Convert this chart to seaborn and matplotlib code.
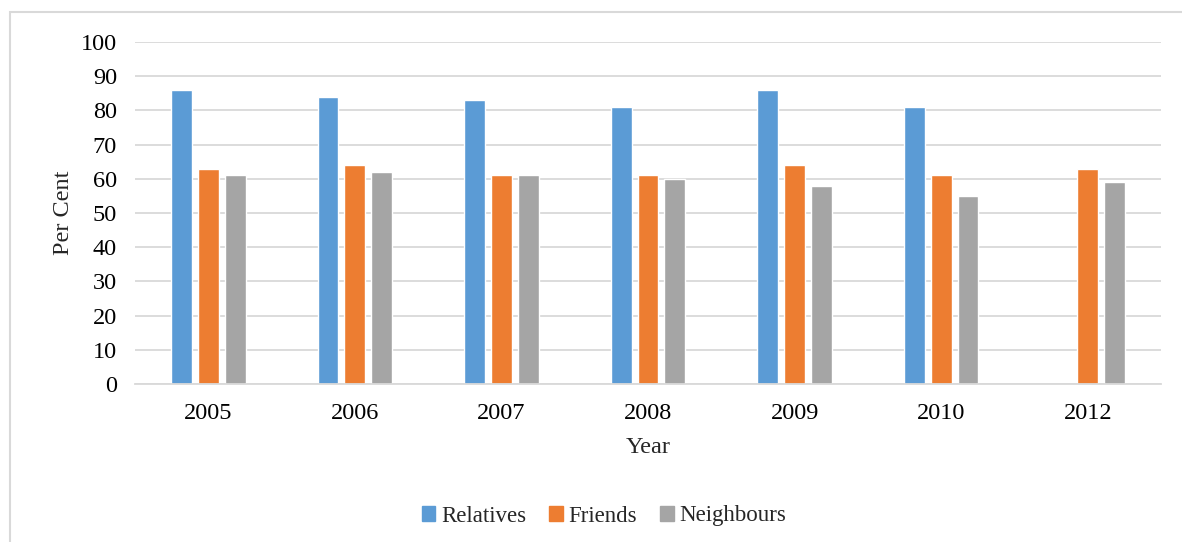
import numpy as np
import pandas as pd
import seaborn as sns
import matplotlib.pyplot as plt
from matplotlib.patches import Rectangle

# Chart data
years = ['2005', '2006', '2007', '2008', '2009', '2010', '2012']
relatives = [86, 84, 83, 81, 86, 81, np.nan]
friends = [63, 64, 61, 61, 64, 61, 63]
neighbours = [61, 62, 61, 60, 58, 55, 59]
series_names = ['Relatives', 'Friends', 'Neighbours']
colors = ['#5B9BD5', '#ED7D31', '#A5A5A5']

# Long table for seaborn
df = pd.DataFrame({'Year': years, 'Relatives': relatives,
                   'Friends': friends, 'Neighbours': neighbours})
df_long = df.melt(id_vars='Year', var_name='Group', value_name='Per Cent')

sns.set_style('white')
plt.rcParams['font.family'] = ['Liberation Serif', 'DejaVu Serif']

fs = 17.5
fig = plt.figure(figsize=(11.82, 5.42), dpi=100)
ax = fig.add_axes([135 / 1182, 1 - 384 / 542, 1026 / 1182, 342 / 542])

sns.barplot(data=df_long, x='Year', y='Per Cent', hue='Group',
            hue_order=series_names, palette=colors, order=years,
            width=0.55, gap=0.22, saturation=1, ax=ax, legend=False)

# Axes styling (Excel look)
ax.set_ylim(0, 100)
ax.set_yticks(range(0, 101, 10))
ax.yaxis.grid(True, color='#D9D9D9', linewidth=1.3)
ax.set_axisbelow(True)
for side in ['top', 'right', 'left']:
    ax.spines[side].set_visible(False)
ax.spines['bottom'].set_color('#D9D9D9')
ax.spines['bottom'].set_linewidth(1.3)
ax.tick_params(axis='both', length=0, labelsize=fs, colors='black')
ax.tick_params(axis='y', pad=13)
ax.tick_params(axis='x', pad=14)
ax.set_xlabel('Year', fontsize=fs, labelpad=9)
ax.set_ylabel('Per Cent', fontsize=fs, labelpad=5)

# Legend below the plot
handles = [Rectangle((0, 0), 1, 1, color=c) for c in colors]
fig.legend(handles, series_names, loc='center', bbox_to_anchor=(604 / 1182, 1 - 516 / 542),
           ncol=3, frameon=False, fontsize=16.5, handlelength=0.6, handleheight=0.6,
           handletextpad=0.25, columnspacing=1.0)

# Light chart-area border, partly cropped
fig.patches.append(Rectangle((10 / 1182, -0.1), 1.2, 1 - 12 / 542 + 0.1,
                             transform=fig.transFigure, fill=False,
                             edgecolor='#D9D9D9', linewidth=1.5))

fig.savefig('out.png', dpi=100)
